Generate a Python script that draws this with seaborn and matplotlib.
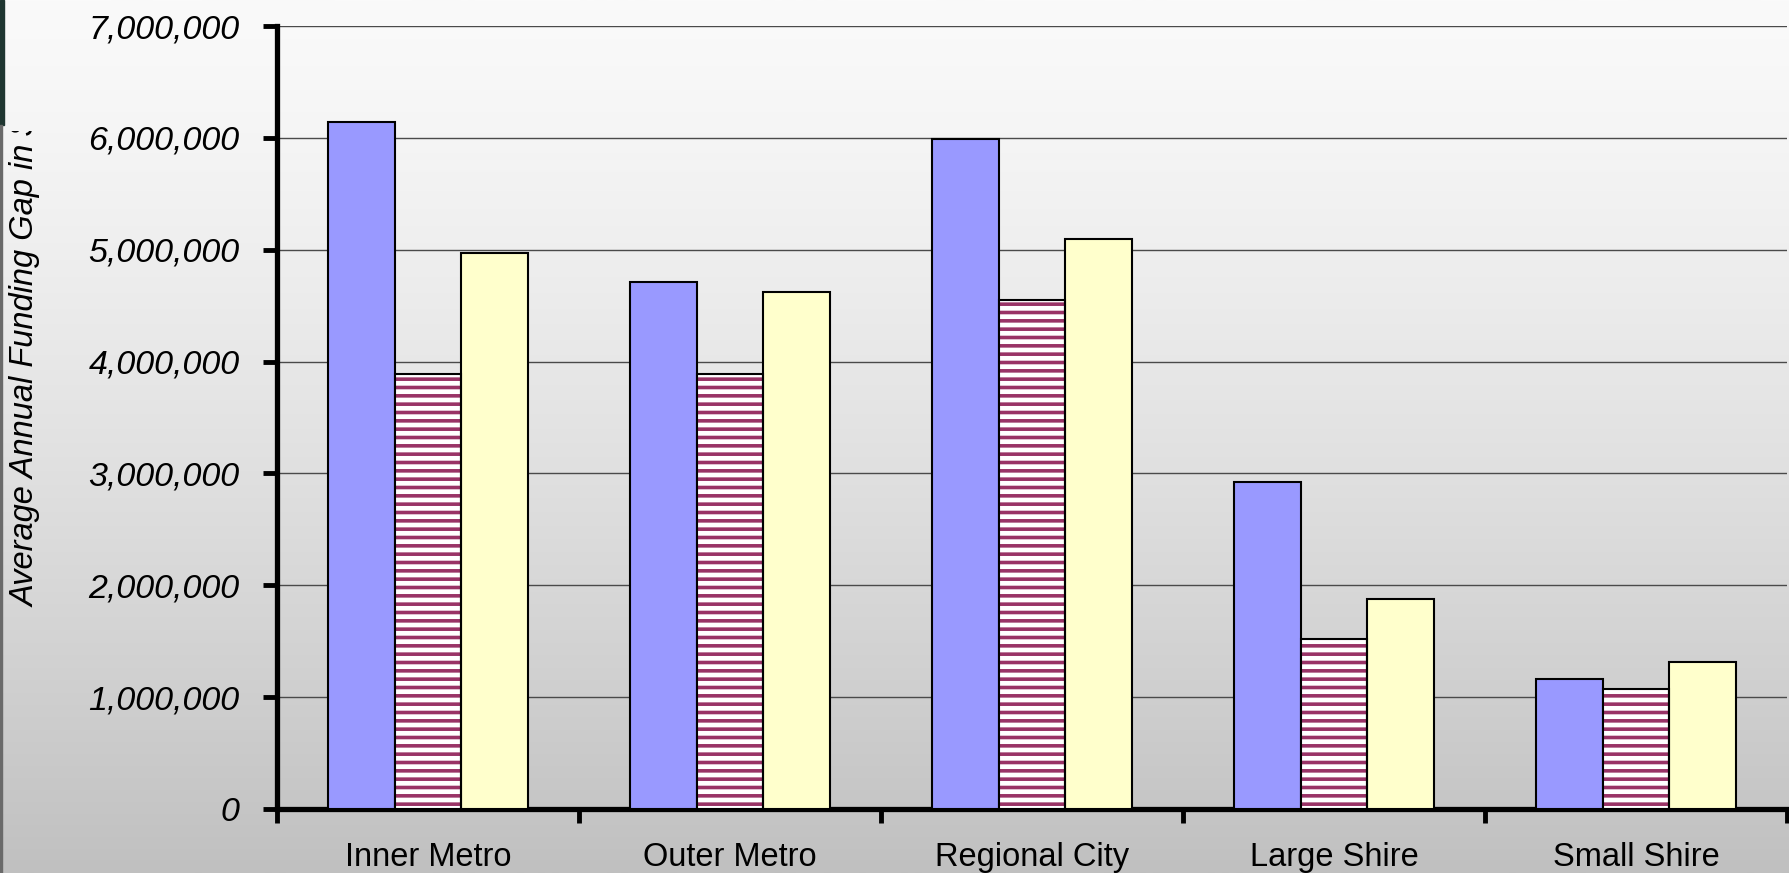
import numpy as np
import pandas as pd
import matplotlib
matplotlib.use("Agg")
import matplotlib.pyplot as plt
import seaborn as sns
from matplotlib.patches import Rectangle
from matplotlib.ticker import FuncFormatter, MultipleLocator
from matplotlib.transforms import Bbox, TransformedBbox

# data
categories = ["Inner Metro", "Outer Metro", "Regional City", "Large Shire", "Small Shire"]
series_names = ["Series 1", "Series 2", "Series 3"]
series_1 = [6140000, 4710000, 5990000, 2920000, 1160000]
series_2 = [3890000, 3890000, 4550000, 1520000, 1070000]
series_3 = [4970000, 4620000, 5100000, 1880000, 1310000]
colors = ["#9999FF", "#993366", "#FFFFCC"]

df = pd.DataFrame({
    "category": categories * 3,
    "series": np.repeat(series_names, len(categories)),
    "value": series_1 + series_2 + series_3,
})

sns.set_style("white")
plt.rcParams["font.family"] = ["Liberation Sans", "DejaVu Sans"]
plt.rcParams["hatch.linewidth"] = 2.6
plt.rcParams["text.color"] = "black"
plt.rcParams["xtick.color"] = "black"
plt.rcParams["ytick.color"] = "black"

W, H = 1789, 873
fig = plt.figure(figsize=(W / 100, H / 100), dpi=100)

# gradient background over the whole figure
bg = fig.add_axes([0, 0, 1, 1], zorder=-10)
t = np.linspace(0, 1, 400) ** 1.3
grey = ((250 - 58 * t) / 255)[:, None]
bg.imshow(np.dstack([grey, grey, grey]), aspect="auto", extent=[0, 1, 0, 1],
          origin="upper", interpolation="bilinear")
bg.set_axis_off()
# dark strip at the very left edge
fig.patches.append(Rectangle((0, 1 - 125 / H), 4 / W, 125 / H, transform=fig.transFigure,
                             color="#1f3631", zorder=-5))
fig.patches.append(Rectangle((0, 0), 2 / W, 1 - 125 / H, transform=fig.transFigure,
                             color="#6a6a6a", zorder=-5))

ax = fig.add_axes([277 / W, 64 / H, 1510 / W, 783 / H])
ax.set_facecolor("none")

sns.barplot(data=df, x="category", y="value", hue="series", palette=colors,
            width=0.66, edgecolor="black", linewidth=1.5, saturation=1,
            legend=False, ax=ax, zorder=3)

# hatched middle series: maroon stripes on white, black outline on top
for bar in ax.containers[1]:
    bar.set_facecolor("white")
    bar.set_edgecolor(colors[1])
    bar.set_hatch("--")
    bar.set_linewidth(0)
    ax.add_patch(Rectangle(bar.get_xy(), bar.get_width(), bar.get_height(),
                           fill=False, edgecolor="black", linewidth=1.5, zorder=4))

ax.set_xlim(-0.5, len(categories) - 0.5)
ax.set_ylim(0, 7000000)
ax.yaxis.set_major_locator(MultipleLocator(1000000))
ax.yaxis.set_major_formatter(FuncFormatter(lambda v, p: f"{v:,.0f}"))
ax.grid(axis="y", color="#4a4a4a", linewidth=1.0, zorder=0)
ax.set_axisbelow(True)

# x ticks at category boundaries, labels at centres
ax.set_xticks(np.arange(-0.5, len(categories), 1.0))
ax.set_xticklabels([])
ax.set_xticks(np.arange(len(categories)), minor=True)
ax.set_xticklabels(categories, minor=True, fontsize=23.5)
ax.tick_params(axis="x", which="major", bottom=True, direction="out", length=10,
               width=3.5, color="black")
ax.tick_params(axis="x", which="minor", bottom=True, length=0, pad=24, labelcolor="black")
ax.tick_params(axis="y", left=True, direction="out", length=10, width=3.5, color="black",
               labelsize=24.5, pad=17, labelcolor="black")
for lab in ax.get_yticklabels():
    lab.set_fontstyle("italic")

for s in ["top", "right"]:
    ax.spines[s].set_visible(False)
for s in ["left", "bottom"]:
    ax.spines[s].set_linewidth(3.8)
    ax.spines[s].set_color("black")
ax.set_xlabel("")
ax.set_ylabel("")

# y label, clipped at the top like the original
ylab = fig.text(26 / W, (H - 607) / H, "Average Annual Funding Gap in $", rotation=90,
                ha="center", va="bottom", fontsize=23.5, fontstyle="italic", color="black")
ylab.set_clip_box(TransformedBbox(Bbox([[0, 0], [1, (H - 131) / H]]), fig.transFigure))
ylab.set_clip_on(True)

fig.savefig("out.png", dpi=100)
